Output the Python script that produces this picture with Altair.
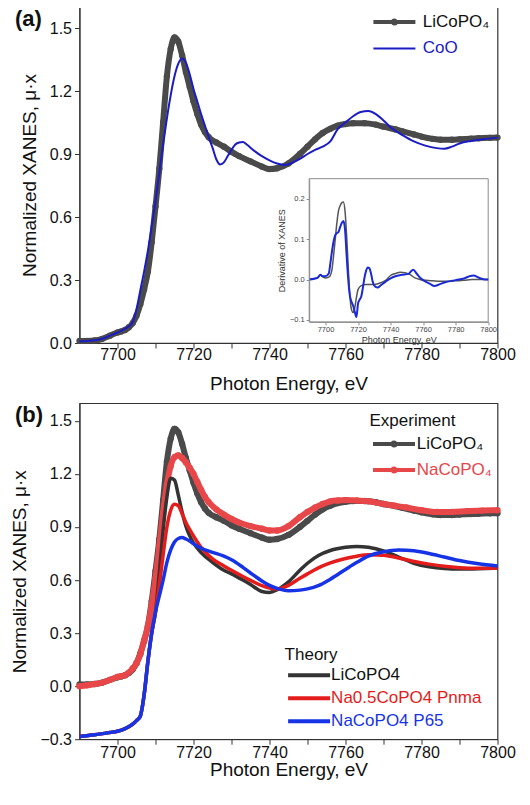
import altair as alt
import pandas as pd

FONT = "Liberation Sans"

# ---------------- data ----------------
# Panel (a)/(b): experimental LiCoPO4
LI_E = [7690, 7692, 7694, 7696, 7698, 7700, 7701, 7702, 7703, 7704, 7705, 7706, 7707, 7708, 7709,
        7710, 7711, 7712, 7713, 7714, 7715, 7716, 7717, 7718, 7719, 7720, 7721, 7722, 7723, 7724,
        7726, 7728, 7730, 7732, 7735, 7738, 7740, 7742, 7745, 7748, 7750, 7752, 7754, 7756, 7758,
        7760, 7762, 7765, 7768, 7770, 7773, 7775, 7778, 7780, 7783, 7785, 7788, 7790, 7793, 7795,
        7798, 7800]
LI_V = [0.01, 0.01, 0.012, 0.02, 0.035, 0.05, 0.055, 0.062, 0.075, 0.095, 0.13, 0.185, 0.255, 0.34, 0.48,
        0.65, 0.83, 1.05, 1.27, 1.40, 1.455, 1.435, 1.37, 1.29, 1.22, 1.15, 1.09, 1.04, 1.005, 0.98,
        0.955, 0.935, 0.91, 0.89, 0.865, 0.84, 0.828, 0.832, 0.855, 0.90, 0.935, 0.97, 1.0, 1.02, 1.035,
        1.043, 1.047, 1.047, 1.04, 1.03, 1.018, 1.008, 0.993, 0.983, 0.972, 0.968, 0.968, 0.97, 0.973, 0.975,
        0.977, 0.978]

# Panel (a): CoO reference
COO_E = [7690, 7692, 7694, 7696, 7698, 7700, 7702, 7703, 7704, 7705, 7706, 7707, 7708, 7709, 7710,
         7711, 7712, 7713, 7714, 7715, 7716, 7717, 7718, 7719, 7720, 7721, 7722, 7723, 7724, 7725,
         7726, 7727, 7728, 7729, 7730, 7731, 7732, 7733, 7734, 7736, 7738, 7740, 7742, 7744, 7746,
         7748, 7750, 7752, 7754, 7756, 7758, 7760, 7762, 7764, 7766, 7768, 7770, 7772, 7775, 7778,
         7781, 7784, 7786, 7788, 7790, 7793, 7796, 7800]
COO_V = [0.008, 0.01, 0.013, 0.02, 0.035, 0.05, 0.068, 0.08, 0.1, 0.16, 0.25, 0.34, 0.44, 0.555, 0.675,
         0.81, 0.945, 1.07, 1.18, 1.27, 1.33, 1.355, 1.335, 1.28, 1.21, 1.15, 1.09, 1.035, 0.98, 0.93,
         0.875, 0.85, 0.86, 0.89, 0.92, 0.945, 0.955, 0.957, 0.945, 0.915, 0.89, 0.87, 0.855, 0.848, 0.858,
         0.877, 0.9, 0.92, 0.935, 0.96, 1.02, 1.05, 1.08, 1.10, 1.105, 1.09, 1.06, 1.025, 0.99, 0.96,
         0.94, 0.928, 0.925, 0.935, 0.95, 0.962, 0.97, 0.978]

# Inset: derivative of XANES
DLI_E = [7690, 7693, 7695, 7697, 7698, 7700, 7702, 7703, 7704, 7705, 7706, 7707, 7708, 7709, 7710,
         7711, 7712, 7713, 7714, 7715, 7716, 7717, 7718, 7719, 7720, 7722, 7725, 7730, 7734, 7737,
         7740, 7743, 7746, 7749, 7752, 7755, 7758, 7762, 7766, 7770, 7775, 7780, 7785, 7790, 7795, 7800]
DLI_V = [0.0, 0.002, 0.004, 0.012, 0.008, 0.004, 0.006, 0.01, 0.025, 0.06, 0.10, 0.14, 0.17, 0.183, 0.19,
         0.192, 0.17, 0.11, 0.03, -0.04, -0.075, -0.082, -0.07, -0.045, -0.025, -0.015, -0.012, -0.012, -0.008, -0.002,
         0.01, 0.015, 0.018, 0.017, 0.012, 0.004, 0.0, -0.002, -0.003, -0.004, -0.004, -0.003, -0.002, 0.0, 0.0, 0.0]
DCOO_E = [7690, 7693, 7695, 7697, 7698, 7700, 7702, 7703, 7704, 7705, 7706, 7707, 7708, 7709, 7710,
          7711, 7712, 7713, 7714, 7715, 7716, 7717, 7718, 7719, 7720, 7721, 7722, 7723, 7724, 7725,
          7726, 7727, 7728, 7729, 7730, 7732, 7734, 7737, 7740, 7743, 7747, 7751, 7753, 7754, 7756,
          7758, 7761, 7764, 7767, 7770, 7774, 7778, 7782, 7786, 7789, 7791, 7794, 7797, 7800]
DCOO_V = [0.0, 0.002, 0.004, 0.012, 0.008, 0.008, 0.015, 0.04, 0.07, 0.095, 0.11, 0.115, 0.118, 0.13, 0.14,
          0.145, 0.125, 0.06, 0.0, -0.04, -0.055, -0.065, -0.08, -0.093, -0.06, -0.05, -0.042, -0.02, 0.005, 0.022,
          0.03, 0.028, 0.015, -0.005, -0.015, -0.02, -0.014, -0.005, 0.003, 0.008, 0.012, 0.014, 0.022, 0.024, 0.015,
          0.005, -0.004, -0.01, -0.016, -0.012, -0.006, -0.003, 0.0, 0.004, 0.009, 0.01, 0.005, 0.001, 0.0]

# Panel (b): experimental NaCoPO4
NA_E = [7690, 7692, 7694, 7696, 7698, 7700, 7702, 7704, 7705, 7706, 7707, 7708, 7709, 7710, 7711,
        7712, 7713, 7714, 7715, 7716, 7717, 7718, 7719, 7720, 7721, 7722, 7723, 7724, 7726, 7728,
        7730, 7732, 7735, 7738, 7740, 7742, 7745, 7748, 7750, 7752, 7754, 7756, 7758, 7760, 7763,
        7766, 7770, 7773, 7776, 7780, 7784, 7788, 7792, 7796, 7800]
NA_V = [0.0, 0.005, 0.012, 0.02, 0.035, 0.052, 0.062, 0.1, 0.13, 0.18, 0.26, 0.34, 0.46, 0.61, 0.79,
        0.98, 1.14, 1.245, 1.295, 1.305, 1.29, 1.265, 1.235, 1.2, 1.155, 1.11, 1.07, 1.04, 1.0, 0.97,
        0.945, 0.925, 0.905, 0.89, 0.88, 0.88, 0.905, 0.955, 0.985, 1.01, 1.03, 1.045, 1.05, 1.052, 1.05,
        1.045, 1.03, 1.02, 1.01, 0.995, 0.985, 0.985, 0.99, 0.993, 0.995]

# Panel (b): theory
TH_E = [7690, 7694, 7698, 7700, 7702, 7704, 7705, 7706, 7707, 7708, 7709, 7710, 7711, 7712, 7713,
        7714, 7715, 7716, 7717, 7718, 7719, 7720, 7722, 7725, 7728, 7730, 7733, 7735, 7738, 7740,
        7742, 7745, 7748, 7750, 7753, 7756, 7760, 7763, 7766, 7770, 7774, 7778, 7782, 7786, 7790,
        7795, 7800]
TH_LI_V = [-0.285, -0.275, -0.262, -0.255, -0.24, -0.215, -0.195, -0.17, -0.05, 0.14, 0.30, 0.42, 0.64, 0.88, 1.07,
           1.175, 1.165, 1.08, 0.985, 0.905, 0.85, 0.81, 0.755, 0.70, 0.655, 0.635, 0.60, 0.575, 0.535, 0.53,
           0.545, 0.59, 0.655, 0.695, 0.74, 0.767, 0.785, 0.79, 0.785, 0.765, 0.73, 0.695, 0.675, 0.665, 0.662,
           0.664, 0.668]
TH_NA05_V = [-0.285, -0.275, -0.262, -0.255, -0.24, -0.215, -0.195, -0.17, -0.05, 0.14, 0.30, 0.42, 0.57, 0.74, 0.90,
             0.995, 1.028, 1.02, 0.975, 0.925, 0.885, 0.85, 0.785, 0.72, 0.68, 0.655, 0.62, 0.598, 0.568, 0.555,
             0.55, 0.57, 0.61, 0.635, 0.67, 0.697, 0.722, 0.735, 0.743, 0.74, 0.725, 0.705, 0.69, 0.678, 0.67,
             0.666, 0.668]
TH_P65_V = [-0.285, -0.275, -0.262, -0.255, -0.24, -0.215, -0.195, -0.17, -0.05, 0.14, 0.30, 0.42, 0.51, 0.60, 0.70,
            0.77, 0.815, 0.835, 0.84, 0.832, 0.82, 0.805, 0.78, 0.757, 0.735, 0.715, 0.672, 0.64, 0.595, 0.57,
            0.553, 0.54, 0.543, 0.55, 0.57, 0.605, 0.66, 0.70, 0.735, 0.76, 0.77, 0.765, 0.75, 0.73, 0.71,
            0.692, 0.68]

SERIES_A = ["LiCoPO\u2084", "CoO"]
SERIES_EXP = ["LiCoPO\u2084", "NaCoPO\u2084"]
SERIES_TH = ["LiCoPO4", "Na0.5CoPO4 Pnma", "NaCoPO4 P65"]

X_DOMAIN = [7690, 7800]
X_TICKS = [7700, 7710, 7720, 7730, 7740, 7750, 7760, 7770, 7780, 7790, 7800]
YA_DOMAIN = [0.0, 1.6]
YA_TICKS = [0.0, 0.3, 0.6, 0.9, 1.2, 1.5]
YB_DOMAIN = [-0.3, 1.6]
YB_TICKS = [-0.3, 0.0, 0.3, 0.6, 0.9, 1.2, 1.5]
IN_X_DOMAIN = [7690, 7800]
IN_X_TICKS = [7700, 7720, 7740, 7760, 7780, 7800]
IN_Y_DOMAIN = [-0.105, 0.25]
IN_Y_TICKS = [-0.1, 0.0, 0.1, 0.2]

# ---------------- styling ----------------
W, H = 418, 336
IN_X_RANGE = [229.7, 408.7]
IN_Y_RANGE = [314.9, 171.7]

GRAY = "#4a4a4a"
BLUE_A = "#1c1cc4"
RED_EXP = "#e8474a"
TH_BLACK = "#333333"
TH_RED = "#e41c1c"
TH_BLUE = "#1733e6"

# legend symbols: a 42px line starting at the legend origin (optionally with a dot)
LINE_PATH = "M-1,0H7.4"
DOT_PATH = "M-1,0H7.4M2.9,0A0.3,0.3 0 1,0 3.5,0A0.3,0.3 0 1,0 2.9,0"


def df(E, V, name):
    return pd.DataFrame({"E": E, "V": V, "series": name})


df_li = df(LI_E, LI_V, SERIES_A[0])
df_coo = df(COO_E, COO_V, SERIES_A[1])
df_dli = df(DLI_E, DLI_V, "d1")
df_dcoo = df(DCOO_E, DCOO_V, "d2")
df_li_b = df(LI_E, LI_V, SERIES_EXP[0])
df_na = df(NA_E, NA_V, SERIES_EXP[1])
df_th = pd.concat([df(TH_E, TH_LI_V, SERIES_TH[0]),
                   df(TH_E, TH_NA05_V, SERIES_TH[1]),
                   df(TH_E, TH_P65_V, SERIES_TH[2])])

xscale = alt.Scale(domain=X_DOMAIN, nice=False, zero=False)


def x_axis(label_pad, title_pad):
    return alt.Axis(values=X_TICKS, format="d",
                    labelExpr="datum.value % 20 == 0 ? datum.label : ''",
                    title="Photon Energy, eV", tickSize=5, labelPadding=label_pad, titlePadding=title_pad,
                    labelFontSize=16, titleFontSize=19, labelFlush=False, labelOverlap=False,
                    grid=False, domainColor="#333", tickColor="#333", labelColor="#111",
                    titleColor="#111", titleFontWeight="normal", labelFont=FONT, titleFont=FONT)


XA_AXIS = x_axis(-1.5, 12)
XB_AXIS = x_axis(0, 0)


def y_axis(ticks):
    return alt.Axis(orient="left", values=ticks, format=".1f", title="Normalized XANES, \u03bc\u00b7x",
                    tickSize=5, labelPadding=3, titlePadding=10, labelFontSize=16, titleFontSize=19,
                    labelFlush=False, labelOverlap=False, grid=False, domainColor="#333",
                    tickColor="#333", labelColor="#111", titleColor="#111",
                    titleFontWeight="normal", labelFont=FONT, titleFont=FONT)


def tag_axis(txt):
    # second (invisible) left axis that only carries the panel tag as its title
    return alt.Axis(orient="left", title=txt, titleAngle=0, titleX=-65, titleY=11.5,
                    titleAlign="left", titleBaseline="middle", titleFontSize=22,
                    titleFontWeight="bold", titleFont=FONT, titleColor="#111",
                    labels=False, ticks=False, domain=False, grid=False)


def X(axis):
    return alt.X("E:Q", scale=xscale, axis=axis)


def Y(domain, axis=None):
    return alt.Y("V:Q", scale=alt.Scale(domain=domain, nice=False, zero=False), axis=axis)


# ---------------- panel (a) ----------------
leg_a = alt.Legend(
    title=None, orient="none", legendX=290.4, legendY=6.6, padding=0,
    symbolType=alt.ExprRef(expr=f"datum.value == '{SERIES_A[1]}' ? '{LINE_PATH}' : '{DOT_PATH}'"),
    symbolSize=100,
    symbolStrokeWidth=alt.ExprRef(expr=f"datum.value == '{SERIES_A[1]}' ? 2 : 4"),
    symbolFillColor="transparent",
    labelColor=alt.ExprRef(expr=f"datum.value == '{SERIES_A[1]}' ? '{BLUE_A}' : '#111111'"),
    labelFontSize=17, labelFont=FONT, labelOffset=35.9, rowPadding=7.3)
color_a = alt.Color("series:N", scale=alt.Scale(domain=SERIES_A, range=[GRAY, BLUE_A]), legend=leg_a)

a_li_line = alt.Chart(df_li).mark_line(strokeWidth=6, interpolate="monotone").encode(
    x=X(XA_AXIS), y=Y(YA_DOMAIN, y_axis(YA_TICKS)), color=color_a)
a_li_pts = alt.Chart(df_li).mark_circle(size=40, opacity=1).encode(
    x=X(XA_AXIS), y=Y(YA_DOMAIN, tag_axis("(a)")), color=color_a)
a_coo = alt.Chart(df_coo).mark_line(strokeWidth=2, interpolate="monotone").encode(
    x=X(XA_AXIS), y=Y(YA_DOMAIN), color=color_a)
main_a = alt.layer(a_li_line, a_li_pts, a_coo).resolve_axis(y="independent")

ix = alt.Scale(domain=IN_X_DOMAIN, range=IN_X_RANGE, nice=False, zero=False)
iy = alt.Scale(domain=IN_Y_DOMAIN, range=IN_Y_RANGE, nice=False, zero=False)
IN_X_AXIS = alt.Axis(orient="bottom", offset=-(H - IN_Y_RANGE[0]), values=IN_X_TICKS, format="d",
                     title="Photon Energy, eV", titleFontSize=9, labelFontSize=7.5, tickSize=3,
                     labelPadding=1, titlePadding=2, domainColor="#8c8c8c", tickColor="#8c8c8c",
                     labelColor="#444", titleColor="#333", titleFontWeight="normal", zindex=1,
                     grid=False, labelFlush=False, labelFont=FONT, titleFont=FONT)
IN_Y_AXIS = alt.Axis(orient="left", offset=-IN_X_RANGE[0], values=IN_Y_TICKS, format=".1f",
                     title="Derivative of XANES", titleFontSize=9, labelFontSize=7.5, tickSize=3,
                     labelPadding=2, titlePadding=3, domainColor="#8c8c8c", tickColor="#8c8c8c",
                     labelColor="#444", titleColor="#333", titleFontWeight="normal", zindex=1,
                     grid=False, labelFlush=False, labelFont=FONT, titleFont=FONT)
frame_df = pd.DataFrame({"E": [IN_X_DOMAIN[0]], "E2": [IN_X_DOMAIN[1]],
                         "V": [IN_Y_DOMAIN[0]], "V2": [IN_Y_DOMAIN[1]]})
inset_frame = alt.Chart(frame_df).mark_rect(fill="white", stroke="#8c8c8c", strokeWidth=1).encode(
    x=alt.X("E:Q", scale=ix, axis=IN_X_AXIS), x2="E2:Q",
    y=alt.Y("V:Q", scale=iy, axis=IN_Y_AXIS), y2="V2:Q")
inset_li = alt.Chart(df_dli).mark_line(color="#555555", strokeWidth=1.5, interpolate="monotone").encode(
    x=alt.X("E:Q", scale=ix, axis=IN_X_AXIS), y=alt.Y("V:Q", scale=iy, axis=IN_Y_AXIS))
inset_coo = alt.Chart(df_dcoo).mark_line(color="#1a2ad4", strokeWidth=2, interpolate="monotone").encode(
    x=alt.X("E:Q", scale=ix, axis=IN_X_AXIS), y=alt.Y("V:Q", scale=iy, axis=IN_Y_AXIS))
inset = alt.layer(inset_frame, inset_li, inset_coo)

panel_a = alt.layer(main_a, inset).resolve_scale(x="independent", y="independent").properties(
    width=W, height=H)

# ---------------- panel (b) ----------------
leg_exp = alt.Legend(
    title="Experiment", titleFontSize=17, titleFont=FONT, titleFontWeight="normal", titleColor="#111",
    titlePadding=6, orient="none", legendX=290, legendY=9.3, padding=0,
    symbolType=DOT_PATH, symbolSize=100, symbolStrokeWidth=4, symbolFillColor="transparent",
    labelColor=alt.ExprRef(expr=f"datum.value == '{SERIES_EXP[1]}' ? '{RED_EXP}' : '#111111'"),
    labelFontSize=17, labelFont=FONT, labelOffset=30.3, rowPadding=7)
color_exp = alt.Color("series:N", scale=alt.Scale(domain=SERIES_EXP, range=[GRAY, RED_EXP]), legend=leg_exp)

leg_th = alt.Legend(
    title="Theory", titleFontSize=17, titleFont=FONT, titleFontWeight="normal", titleColor="#111",
    titlePadding=3, orient="none", legendX=205.1, legendY=243.5, padding=0,
    symbolType=LINE_PATH, symbolSize=100, symbolStrokeWidth=4, symbolFillColor="transparent",
    labelColor=alt.ExprRef(expr=f"datum.value == '{SERIES_TH[0]}' ? '#111111' : "
                                f"(datum.value == '{SERIES_TH[1]}' ? '{TH_RED}' : '{TH_BLUE}')"),
    labelFontSize=17, labelFont=FONT, labelOffset=29.5, rowPadding=5)
color_th = alt.Color("series:N", scale=alt.Scale(domain=SERIES_TH, range=[TH_BLACK, TH_RED, TH_BLUE]),
                     legend=leg_th)

b_li_line = alt.Chart(df_li_b).mark_line(strokeWidth=6, interpolate="monotone").encode(
    x=X(XB_AXIS), y=Y(YB_DOMAIN, y_axis(YB_TICKS)), color=color_exp)
b_li_pts = alt.Chart(df_li_b).mark_circle(size=40, opacity=1).encode(
    x=X(XB_AXIS), y=Y(YB_DOMAIN, tag_axis("(b)")), color=color_exp)
b_na_line = alt.Chart(df_na).mark_line(strokeWidth=6, interpolate="monotone").encode(
    x=X(XB_AXIS), y=Y(YB_DOMAIN), color=color_exp)
b_na_pts = alt.Chart(df_na).mark_circle(size=40, opacity=1).encode(
    x=X(XB_AXIS), y=Y(YB_DOMAIN), color=color_exp)
exp_b = alt.layer(b_li_line, b_li_pts, b_na_line, b_na_pts).resolve_axis(y="independent")

th_b = alt.Chart(df_th).mark_line(strokeWidth=3.5, interpolate="monotone").encode(
    x=X(XB_AXIS), y=Y(YB_DOMAIN), color=color_th)

panel_b = alt.layer(exp_b, th_b).resolve_scale(color="independent").resolve_axis(
    y="independent").properties(width=W, height=H)

chart = alt.vconcat(panel_a, panel_b, spacing=7.2).properties(
    padding={"left": 1.5, "top": -2, "right": 0, "bottom": 0}
).configure(font=FONT).configure_view(stroke="#333333", strokeWidth=1.2)

chart.save("out.html", embed_options={"renderer": "svg", "actions": False})
